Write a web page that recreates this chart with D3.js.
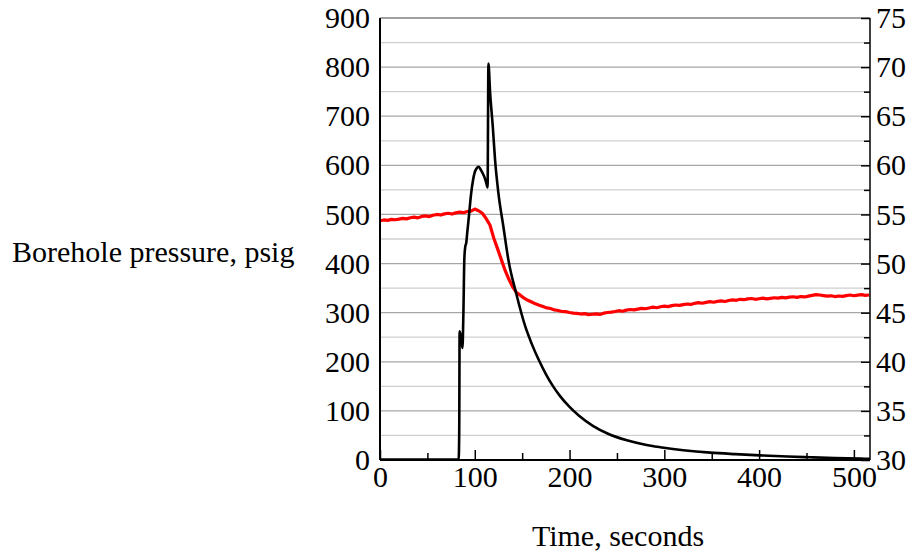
<!DOCTYPE html>
<html>
<head>
<meta charset="utf-8">
<script src="https://cdn.jsdelivr.net/npm/d3@7"></script>
<style>
  body { margin: 0; background: #fff; }
  svg { display: block; }
  text { font-family: "Liberation Serif", "Times New Roman", serif; fill: #000; }
</style>
</head>
<body>
<svg id="chart" width="918" height="556"></svg>
<script>
// Borehole pressure (psig) over time (s)
const pressureTime = [0, 40, 83, 83.6, 84, 85.5, 87, 88, 89, 90, 91, 92, 94, 96, 98, 100, 102, 104, 106, 108, 110, 112, 113.5,
  114.4, 116.2, 119, 121.4, 124.9, 130.2, 135.5, 143.6, 153.1, 160, 167.2, 175, 182, 190, 200, 210, 225, 240, 260.5, 280,
  295.7, 320, 348.5, 375, 401, 430, 454, 480, 507, 517];
const pressure = [1, 1, 1, 60, 262, 250, 228, 300, 410, 435, 442, 462, 500, 540, 568, 586, 594, 597, 592, 585, 577, 565, 555,
  807, 747, 679, 611, 544, 475, 407, 340, 273, 237, 205, 175, 152, 130, 108, 90, 69, 54, 40, 31,
  26, 20, 15, 12, 9.5, 7, 5.5, 4, 2.8, 2.4];

// Second series on the right-hand scale, sampled every 4 s
const tempTime = d3.range(0, 517, 4);
const temperature = [
  54.36, 54.44, 54.40, 54.50, 54.46, 54.52, 54.60, 54.55,
  54.66, 54.72, 54.65, 54.80, 54.86, 54.78, 54.92, 55.00,
  54.94, 55.06, 55.12, 55.04, 55.16, 55.24, 55.18, 55.30,
  55.34, 55.55, 55.38, 55.12, 54.58, 53.92,
  52.60, 51.52, 50.40, 49.30, 48.40, 47.62, 47.05, 46.78, 46.48, 46.26,
  46.08, 45.90, 45.76, 45.62, 45.48, 45.42, 45.28, 45.22, 45.12, 45.10,
  45.02, 44.96, 44.92, 44.86, 44.90, 44.80, 44.84, 44.88, 44.82, 44.95,
  45.02, 45.06, 45.12, 45.20, 45.14, 45.26, 45.32, 45.28, 45.36, 45.44,
  45.40, 45.48, 45.56, 45.50, 45.60, 45.66, 45.62, 45.72, 45.78, 45.74,
  45.82, 45.88, 45.84, 45.95, 46.02, 45.96, 46.05, 46.12, 46.06, 46.15,
  46.20, 46.14, 46.24, 46.30, 46.26, 46.36, 46.32, 46.40, 46.44, 46.36,
  46.42, 46.48, 46.40, 46.46, 46.52, 46.48, 46.56, 46.50, 46.58, 46.62,
  46.56, 46.64, 46.60, 46.68, 46.76, 46.84, 46.80, 46.74, 46.68, 46.72,
  46.64, 46.70, 46.66, 46.74, 46.80, 46.72, 46.78, 46.84, 46.76, 46.80];

const xMajorTicks = [0, 100, 200, 300, 400, 500];
const xMinorTicks = [50, 150, 250, 350, 450];
const leftTicks = [0, 100, 200, 300, 400, 500, 600, 700, 800, 900];
const rightTicks = [30, 35, 40, 45, 50, 55, 60, 65, 70, 75];

const yTitle = "Borehole pressure, psig";
const xTitle = "Time, seconds";

const svg = d3.select("#chart");
const plot = { left: 380, right: 870, top: 18, bottom: 460 };
const fontSize = 30;

const x = d3.scaleLinear().domain([0, 517]).range([plot.left, plot.right]);
const yL = d3.scaleLinear().domain([0, 900]).range([plot.bottom, plot.top]);
const yR = d3.scaleLinear().domain([30, 75]).range([plot.bottom, plot.top]);

// horizontal gridlines every 50 psig, darker on the hundreds
const gridVals = d3.range(50, 900, 50);
svg.append("g").selectAll("line").data(gridVals).join("line")
  .attr("x1", plot.left).attr("x2", plot.right)
  .attr("y1", d => yL(d)).attr("y2", d => yL(d))
  .attr("stroke", d => d % 100 === 0 ? "#a6a6a6" : "#cfcfcf")
  .attr("stroke-width", 1.3);

// top frame edge
svg.append("line").attr("x1", plot.left).attr("x2", plot.right)
  .attr("y1", plot.top).attr("y2", plot.top)
  .attr("stroke", "#808080").attr("stroke-width", 1.5);

// bottom axis: inward ticks, labelled on the hundreds
const xAxisMajor = d3.axisBottom(x).tickValues(xMajorTicks).tickSize(-10).tickPadding(6).tickFormat(d3.format("d"));
const xAxisMinor = d3.axisBottom(x).tickValues(xMinorTicks).tickSize(-7).tickFormat("");
const gxMin = svg.append("g").attr("transform", `translate(0,${plot.bottom})`).call(xAxisMinor);
const gx = svg.append("g").attr("transform", `translate(0,${plot.bottom})`).call(xAxisMajor);

// right axis: inward ticks every 2.5
const rAxisMajor = d3.axisRight(yR).tickValues(rightTicks).tickSize(-9).tickPadding(6).tickFormat(d3.format("d"));
const rAxisMinor = d3.axisRight(yR).tickValues(d3.range(32.5, 75, 5)).tickSize(-6).tickFormat("");
const grMin = svg.append("g").attr("transform", `translate(${plot.right},0)`).call(rAxisMinor);
const gr = svg.append("g").attr("transform", `translate(${plot.right},0)`).call(rAxisMajor);

// left axis
const lAxis = d3.axisLeft(yL).tickValues(leftTicks).tickSize(0).tickPadding(10).tickFormat(d3.format("d"));
const gl = svg.append("g").attr("transform", `translate(${plot.left},0)`).call(lAxis);

[gx, gxMin, gr, grMin, gl].forEach(g => {
  g.select(".domain").remove();
  g.selectAll(".tick line").attr("stroke", "#000").attr("stroke-width", 1.5);
  g.selectAll("text").attr("font-family", "Liberation Serif").attr("font-size", fontSize).attr("fill", "#000");
});

// series lines
const redLine = d3.line().x((d, i) => x(tempTime[i])).y(d => yR(d));
svg.append("path").datum(temperature)
  .attr("d", redLine).attr("fill", "none").attr("stroke", "#ff0000")
  .attr("stroke-width", 3.2).attr("stroke-linejoin", "round");

const blackLine = d3.line().x((d, i) => x(pressureTime[i])).y(d => yL(d)).curve(d3.curveMonotoneX);
svg.append("path").datum(pressure)
  .attr("d", blackLine).attr("fill", "none").attr("stroke", "#000")
  .attr("stroke-width", 2.6).attr("stroke-linejoin", "round");

// frame edges: left, bottom, right
svg.append("line").attr("x1", plot.left).attr("x2", plot.left).attr("y1", plot.top).attr("y2", plot.bottom)
  .attr("stroke", "#000").attr("stroke-width", 2);
svg.append("line").attr("x1", plot.left).attr("x2", plot.right).attr("y1", plot.bottom).attr("y2", plot.bottom)
  .attr("stroke", "#000").attr("stroke-width", 2);
svg.append("line").attr("x1", plot.right).attr("x2", plot.right).attr("y1", plot.top).attr("y2", plot.bottom)
  .attr("stroke", "#000").attr("stroke-width", 1.5);

// axis titles
svg.append("text").attr("x", 12).attr("y", 262).attr("font-size", fontSize).text(yTitle);
svg.append("text").attr("x", 618).attr("y", 546).attr("text-anchor", "middle").attr("font-size", fontSize).text(xTitle);
</script>
</body>
</html>
